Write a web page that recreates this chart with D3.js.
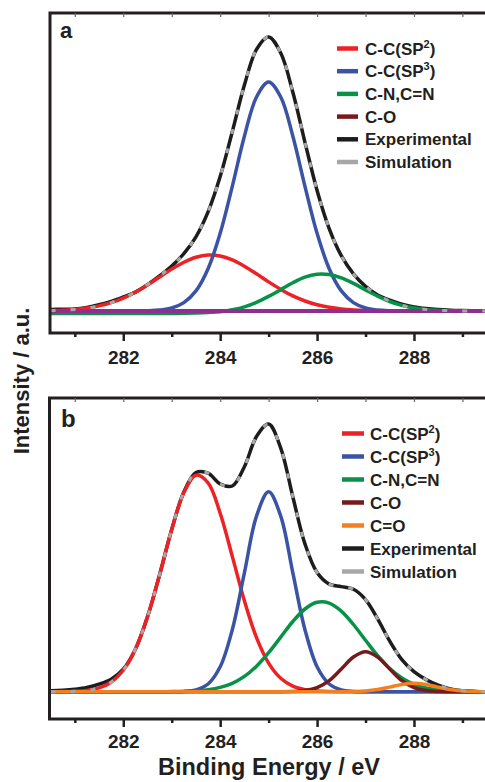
<!DOCTYPE html>
<html>
<head>
<meta charset="utf-8">
<script src="https://cdn.jsdelivr.net/npm/d3@7"></script>
<style>
  body { margin: 0; background: #fff; }
  svg { display: block; }
  text { font-family: "Liberation Sans", Arial, Helvetica, sans-serif; font-weight: bold; fill: #231f20; }
</style>
</head>
<body>
<svg id="chart" width="485" height="782"></svg>
<script>
// Binding energy grid (eV)
const energy = [280.5, 280.75, 281.0, 281.25, 281.5, 281.75, 282.0, 282.25, 282.5, 282.75,
  283.0, 283.25, 283.5, 283.75, 284.0, 284.25, 284.5, 284.75, 285.0, 285.25,
  285.5, 285.75, 286.0, 286.25, 286.5, 286.75, 287.0, 287.25, 287.5, 287.75,
  288.0, 288.25, 288.5, 288.75, 289.0, 289.25, 289.5];

// Panel a: C 1s components (a.u.)
const aSp2 = [0.4, 0.8, 1.6, 2.9, 5.1, 8.3, 12.9, 18.8, 26.0, 34.0,
  41.9, 48.8, 53.8, 56.0, 55.0, 51.1, 44.8, 37.2, 29.1, 21.6,
  15.1, 10.0, 6.2, 3.7, 2.1, 1.1, 0.5, 0.2, 0.1, 0,
  0, 0, 0, 0, 0, 0, 0];
const aSp3 = [0, 0, 0, 0, 0, 0, 0, 0.1, 0.3, 1.0,
  3.0, 8.4, 20.1, 42.3, 77.7, 124.7, 174.8, 214.0, 229.0, 214.0,
  174.8, 124.7, 77.7, 42.3, 20.1, 8.4, 3.0, 1.0, 0.3, 0.1,
  0, 0, 0, 0, 0, 0, 0];
const aCN = [-2.5, -2.5, -2.5, -2.5, -2.5, -2.5, -2.5, -2.5, -2.5, -2.5,
  -2.5, -2.3, -2.0, -1.5, -0.7, 1.3, 4.2, 8.7, 14.6, 21.4,
  28.2, 33.8, 36.7, 36.4, 33.1, 27.6, 21.1, 14.8, 9.5, 5.6,
  3.0, 1.5, 0.7, 0.3, 0.1, 0, 0];
const aCO = [0, 0, 0, 0, 0, 0, 0, 0, 0, 0,
  0, 0, 0, 0, 0, 0, 0, 0, 0, 0,
  0, 0, 0, 0, 0, 0, 0, 0, 0, 0,
  0, 0, 0, 0, 0, 0, 0];
const aExperimental = [1.5, 1.8, 2.0, 3.6, 6.2, 9.6, 14.0, 18.9, 26.3, 35.0,
  44.9, 57.3, 74.2, 99.1, 134.4, 179.3, 225.9, 261.7, 274.1, 258.0,
  218.7, 168.7, 120.6, 82.4, 55.3, 37.1, 24.6, 16.0, 10.8, 6.8,
  4.0, 2.4, 1.4, 0.8, 0.5, 0.3, 0.2];
const aSimulation = [0.4, 0.8, 1.6, 2.9, 5.1, 8.3, 12.9, 18.9, 26.3, 35.0,
  44.9, 57.3, 74.2, 99.1, 134.4, 179.3, 225.9, 261.7, 274.1, 258.0,
  218.7, 168.7, 120.6, 82.4, 55.3, 37.1, 24.6, 16.0, 9.9, 5.7,
  3.0, 1.5, 0.7, 0.3, 0.1, 0, 0];

// Panel b: C 1s components (a.u.)
const bSp2 = [0.0, 0.1, 0.4, 1.3, 3.8, 9.5, 21.4, 42.5, 74.9, 117.0,
  162.1, 199.0, 216.5, 208.8, 178.5, 135.3, 90.9, 54.1, 28.6, 13.4,
  5.5, 2.0, 0.7, 0.2, 0, 0, 0, 0, 0, 0,
  0, 0, 0, 0, 0, 0, 0];
const bSp3 = [0, 0, 0, 0, 0, 0, 0, 0, 0, 0,
  0, 0.3, 1.8, 7.7, 24.9, 62.0, 118.8, 175.6, 200.0, 175.6,
  118.8, 62.0, 24.9, 7.7, 1.8, 0.3, 0, 0, 0, 0,
  0, 0, 0, 0, 0, 0, 0];
const bCN = [0, 0, 0, 0, 0, 0, 0, 0, 0, 0,
  0.1, 0.3, 0.8, 2.0, 4.3, 8.4, 15.3, 25.5, 39.0, 54.6,
  70.2, 82.7, 89.4, 88.6, 80.6, 67.2, 51.4, 36.0, 23.2, 13.7,
  7.4, 3.7, 1.7, 0.7, 0.3, 0.1, 0];
const bCO = [0, 0, 0, 0, 0, 0, 0, 0, 0, 0,
  0, 0, 0, 0, 0, 0, 0, 0, 0, 0,
  0.2, 1.1, 4.1, 11.1, 22.7, 34.7, 40.0, 34.7, 22.7, 11.1,
  4.1, 1.1, 0.2, 0, 0, 0, 0];
const bCdO = [0, 0, 0, 0, 0, 0, 0, 0, 0, 0,
  0, 0, 0, 0, 0, 0, 0, 0, 0, 0,
  0, 0, 0, 0, 0, 0.2, 0.7, 2.1, 4.6, 7.3,
  8.5, 7.3, 4.6, 2.1, 0.7, 0.2, 0];
const bExperimental = [1.0, 1.5, 2.5, 4.2, 7.5, 12.5, 22.5, 42.5, 74.9, 117.0,
  162.2, 199.6, 219.1, 218.5, 207.7, 205.7, 225.0, 255.2, 267.6, 243.6,
  194.7, 147.8, 119.1, 107.6, 105.1, 102.4, 92.1, 72.8, 50.5, 32.1,
  20.0, 12.1, 6.5, 2.8, 1.0, 0.3, 0];
const bSimulation = [0.0, 0.1, 0.4, 1.3, 3.8, 9.5, 21.4, 42.5, 74.9, 117.0,
  162.2, 199.6, 219.1, 218.5, 207.7, 205.7, 225.0, 255.2, 267.6, 243.6,
  194.7, 147.8, 119.1, 107.6, 105.1, 102.4, 92.1, 72.8, 50.5, 32.1,
  20.0, 12.1, 6.5, 2.8, 1.0, 0.3, 0];

// Axis ticks
const xMajorTicks = [282, 284, 286, 288];
const xMinorTicks = [281, 283, 285, 287, 289];
const xTopTicks = [281, 282, 283, 284, 285, 286, 287, 288, 289];

// Legend entries ("^" marks superscript)
const legendLabelsA = ["C-C(SP^2^)", "C-C(SP^3^)", "C-N,C=N", "C-O", "Experimental", "Simulation"];
const legendLabelsB = ["C-C(SP^2^)", "C-C(SP^3^)", "C-N,C=N", "C-O", "C=O", "Experimental", "Simulation"];

const COL = {
  sp2: "#ec2227", sp3: "#3a53a4", cn: "#079247", co: "#761b1d",
  cdo: "#f47f20", exp: "#1d1d1b", sim: "#a7a7a7", bg: "#8e2f8f", axis: "#231f20"
};

const svg = d3.select("#chart");
const x = d3.scaleLinear().domain([280.5, 290.5]).range([50.6, 535.1]);

function drawPanel(p) {
  const y = d3.scaleLinear().domain(p.yDomain).range([p.bottom, p.top]);
  const g = svg.append("g");
  const line = d3.line()
    .x((d, i) => x(energy[i]))
    .y(d => y(d))
    .curve(d3.curveCatmullRom.alpha(0.5));

  p.series.forEach(s => {
    g.append("path")
      .attr("d", line(s.values))
      .attr("fill", "none")
      .attr("stroke", s.color)
      .attr("stroke-width", s.width || 3.5)
      .attr("stroke-dasharray", s.dash || null)
      .attr("stroke-linejoin", "round");
  });

  // frame (left, top, bottom); the right side runs past the page edge
  g.append("rect")
    .attr("x", p.left).attr("y", p.top)
    .attr("width", 520).attr("height", p.bottom - p.top)
    .attr("fill", "none").attr("stroke", COL.axis).attr("stroke-width", 3);

  // bottom axis: labelled major ticks and short minor ticks
  const major = g.append("g").attr("transform", `translate(0,${p.bottom})`)
    .call(d3.axisBottom(x).tickValues(xMajorTicks).tickSize(8).tickFormat(d3.format("d")));
  major.select(".domain").remove();
  major.selectAll("line").attr("stroke", COL.axis).attr("stroke-width", 2.5);
  major.selectAll("text")
    .attr("y", p.labelOffset).attr("dy", null)
    .style("font-size", "19px").attr("fill", COL.axis);

  const minor = g.append("g").attr("transform", `translate(0,${p.bottom})`)
    .call(d3.axisBottom(x).tickValues(xMinorTicks).tickSize(4).tickFormat(""));
  minor.select(".domain").remove();
  minor.selectAll("line").attr("stroke", COL.axis).attr("stroke-width", 2.5);

  // inward ticks along the top edge
  const top = g.append("g").attr("transform", `translate(0,${p.top})`)
    .call(d3.axisBottom(x).tickValues(xTopTicks).tickSize(4).tickFormat(""));
  top.select(".domain").remove();
  top.selectAll("line").attr("stroke", "#666").attr("stroke-width", 1.2);

  // panel letter
  g.append("text").attr("x", p.letterX).attr("y", p.letterY)
    .style("font-size", p.letterSize + "px").text(p.letter);

  // legend
  const lg = g.append("g");
  p.legend.forEach((label, i) => {
    const ry = p.legendY + i * p.legendStep;
    lg.append("line")
      .attr("x1", p.legendX1).attr("x2", p.legendX2)
      .attr("y1", ry).attr("y2", ry)
      .attr("stroke", p.legendColors[i]).attr("stroke-width", 4.5);
    const t = lg.append("text").attr("x", p.legendTextX).attr("y", ry + 6)
      .style("font-size", "17px");
    let raised = false;
    label.split("^").forEach((part, k) => {
      if (!part) return;
      if (k % 2 === 1) {
        t.append("tspan").attr("dy", -7).style("font-size", "11px").text(part);
        raised = true;
      } else {
        t.append("tspan").attr("dy", raised ? 7 : null).text(part);
        raised = false;
      }
    });
  });
}

drawPanel({
  top: 13, bottom: 333, left: 50, yDomain: [-22, 298], labelOffset: 31,
  letter: "a", letterX: 60, letterY: 38, letterSize: 22,
  legend: legendLabelsA,
  legendColors: [COL.sp2, COL.sp3, COL.cn, COL.co, COL.exp, COL.sim],
  legendY: 48.5, legendStep: 22.7, legendX1: 337, legendX2: 358, legendTextX: 365,
  series: [
    { values: aExperimental, color: COL.exp },
    { values: aSp2, color: COL.sp2 },
    { values: aSp3, color: COL.sp3 },
    { values: aCN, color: COL.cn },
    { values: aCO, color: COL.bg, width: 4 },
    { values: aSimulation, color: COL.sim, width: 3, dash: "5 15" }
  ]
});

drawPanel({
  top: 398, bottom: 719, left: 49.5, yDomain: [-27.3, 293.7], labelOffset: 29,
  letter: "b", letterX: 61, letterY: 427, letterSize: 24,
  legend: legendLabelsB,
  legendColors: [COL.sp2, COL.sp3, COL.cn, COL.co, COL.cdo, COL.exp, COL.sim],
  legendY: 433.5, legendStep: 23, legendX1: 342, legendX2: 364, legendTextX: 370,
  series: [
    { values: bExperimental, color: COL.exp },
    { values: bSp2, color: COL.sp2 },
    { values: bSp3, color: COL.sp3 },
    { values: bCN, color: COL.cn },
    { values: bCO, color: COL.co },
    { values: bCdO, color: COL.cdo },
    { values: bSimulation, color: COL.sim, width: 3, dash: "5 15" }
  ]
});

// axis titles
svg.append("text")
  .attr("transform", "translate(29,381) rotate(-90)")
  .attr("text-anchor", "middle")
  .style("font-size", "22px")
  .text("Intensity / a.u.");

svg.append("text")
  .attr("x", 269).attr("y", 775)
  .attr("text-anchor", "middle")
  .style("font-size", "23.5px")
  .text("Binding Energy / eV");
</script>
</body>
</html>
